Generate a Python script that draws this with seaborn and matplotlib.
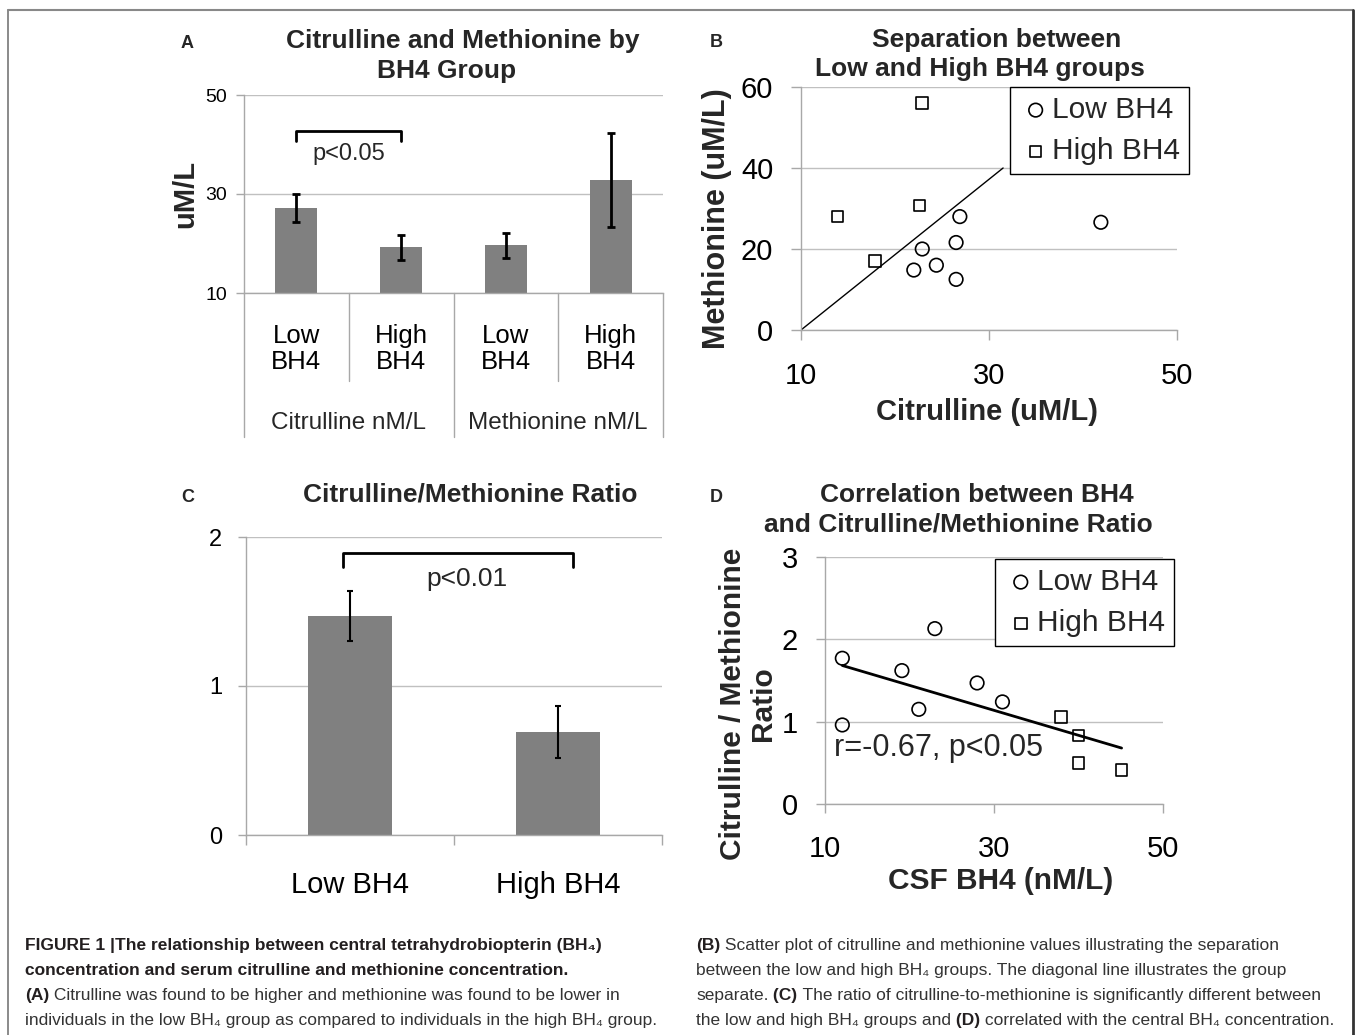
import matplotlib.pyplot as plt
import matplotlib.lines as mlines
import seaborn as sns
import pandas as pd
import numpy as np

# ---- data ----
bh4_groups = ['Low BH4', 'High BH4']

# panel A: mean +/- sem (uM/L)
analytes = ['Citrulline nM/L', 'Methionine nM/L']
a_means = [27.2, 19.2, 19.6, 32.8]
a_sem = [2.85, 2.45, 2.45, 9.55]

# panel B: citrulline vs methionine
b_low_cit = [26.9, 41.9, 26.5, 22.9, 24.4, 22.0, 26.5]
b_low_met = [28.0, 26.6, 21.6, 20.0, 16.0, 14.8, 12.5]
b_high_cit = [22.9, 22.6, 13.9, 17.9]
b_high_met = [56.0, 30.7, 28.0, 17.0]
b_sep_x = [10, 31.5]
b_sep_y = [0, 40]

# panel C: ratio mean +/- sem
c_means = [1.47, 0.69]
c_sem = [0.165, 0.175]

# panel D: CSF BH4 vs ratio
d_low_bh4 = [12.05, 12.05, 23.0, 19.1, 21.1, 28.0, 31.0]
d_low_ratio = [1.77, 0.96, 2.13, 1.62, 1.15, 1.47, 1.24]
d_high_bh4 = [37.95, 40.0, 40.0, 45.1]
d_high_ratio = [1.06, 0.83, 0.50, 0.41]

W, H = 1356, 1035
BAR = '#808080'
GRID = '#c0c0c0'
AXC = '#a8a8a8'

sns.set_style('white')
plt.rcParams['font.family'] = ['Liberation Sans', 'DejaVu Sans']
CAP_FONT = ['Liberation Sans Narrow', 'Liberation Sans', 'DejaVu Sans']

fig = plt.figure(figsize=(W / 100, H / 100), dpi=100)
capax = fig.add_axes([0, 0, 1, 1])
capax.axis('off')


def add_ax(l, t, r, b):
    return fig.add_axes([l / W, 1 - b / H, (r - l) / W, (b - t) / H])


def ftext(x, y, s, **kw):
    return fig.text(x / W, 1 - y / H, s, **kw)


def style_ax(ax, tick_len, label_size, pad):
    for s in ['top', 'right']:
        ax.spines[s].set_visible(False)
    for s in ['left', 'bottom']:
        ax.spines[s].set_color(AXC)
        ax.spines[s].set_linewidth(1)
    ax.yaxis.grid(True, color=GRID, linewidth=1)
    ax.xaxis.grid(False)
    ax.set_axisbelow(True)
    ax.tick_params(left=True, bottom=True, direction='out', color=AXC, labelcolor='black',
                   length=tick_len, width=1, labelsize=label_size, pad=pad)


def scatter_legend(ax, anchor):
    leg = ax.legend(loc='upper right', bbox_to_anchor=anchor, frameon=True, fancybox=False,
                    edgecolor='black', framealpha=1, fontsize=21.5, handletextpad=0.0,
                    borderpad=0.3, labelspacing=0.45, handlelength=1.1, borderaxespad=0)
    leg.get_frame().set_linewidth(1)
    return leg


# ---------------- panel A ----------------
ax = add_ax(244, 95, 663, 293)
df_a = pd.DataFrame({'key': [f'{a}|{g}' for a in analytes for g in bh4_groups], 'value': a_means})
sns.barplot(data=df_a, x='key', y='value', color=BAR, saturation=1, width=0.4,
            linewidth=0, errorbar=None, ax=ax)
ax.errorbar(np.arange(len(a_means)), a_means, yerr=a_sem, fmt='none', ecolor='black',
            elinewidth=2, capsize=3, capthick=2)
ax.set_ylim(10, 50)
ax.set_yticks([10, 30, 50])
ax.set_xlim(-0.5, len(a_means) - 0.5)
style_ax(ax, 6, 14, 6)
ax.set_xticks(range(len(a_means)))
ax.set_xticklabels([g.replace(' ', '\n') for a in analytes for g in bh4_groups],
                   fontsize=18.5, linespacing=1.15)
ax.tick_params(axis='x', length=0, pad=22)
ax.set_xlabel('')
tr = ax.get_xaxis_transform()
for i, name in enumerate(analytes):
    ax.text(2 * i + 0.5, -0.655, name, transform=tr, ha='center', va='center', fontsize=17.5)
for xb in [-0.5, 1.5, 3.5]:
    ax.plot([xb, xb], [0, -0.727], transform=tr, clip_on=False, color=AXC, lw=1)
for xb in [0.5, 2.5]:
    ax.plot([xb, xb], [0, -0.444], transform=tr, clip_on=False, color=AXC, lw=1)
ax.plot([0, 0, 1, 1], [40.7, 42.7, 42.7, 40.7], color='black', lw=2)
ax.text(0.5, 38.1, 'p<0.05', ha='center', va='center', fontsize=17)
ax.set_ylabel('uM/L', fontsize=21, fontweight='bold', ha='center', va='center')
ax.yaxis.set_label_coords(-0.141, 0.5)

ftext(187, 48, 'A', fontsize=13, fontweight='bold', ha='center', va='baseline')
ftext(463, 48, 'Citrulline and Methionine by', fontsize=19, fontweight='bold', ha='center', va='baseline')
ftext(447, 78, 'BH4 Group', fontsize=19, fontweight='bold', ha='center', va='baseline')

# ---------------- panel B ----------------
ax = add_ax(801, 87, 1177, 330)
sns.scatterplot(x=b_low_cit, y=b_low_met, marker='o', s=95, color='black', facecolor='none',
                edgecolor='black', linewidth=1.2, label='Low BH4', ax=ax)
sns.scatterplot(x=b_high_cit, y=b_high_met, marker='s', s=70, color='black', facecolor='none',
                edgecolor='black', linewidth=1.2, label='High BH4', ax=ax)
ax.plot(b_sep_x, b_sep_y, color='black', lw=1)
ax.set_xlim(10, 50)
ax.set_ylim(0, 60)
ax.set_xticks([10, 30, 50])
ax.set_yticks([0, 20, 40, 60])
style_ax(ax, 7, 21, 13)
ax.tick_params(axis='x', pad=16)
scatter_legend(ax, (1.032, 1.0))
ax.set_xlabel('Citrulline (uM/L)', fontsize=21, fontweight='bold', ha='center', va='center')
ax.xaxis.set_label_coords(0.496, -0.337)
ax.set_ylabel('Methionine (uM/L)', fontsize=22, fontweight='bold', ha='center', va='center')
ax.yaxis.set_label_coords(-0.223, 0.457)

ftext(716, 47, 'B', fontsize=13, fontweight='bold', ha='center', va='baseline')
ftext(997, 47, 'Separation between', fontsize=19, fontweight='bold', ha='center', va='baseline')
ftext(980, 76, 'Low and High BH4 groups', fontsize=19, fontweight='bold', ha='center', va='baseline')

# ---------------- panel C ----------------
ax = add_ax(246, 537, 662, 835)
sns.barplot(x=bh4_groups, y=c_means, color=BAR, saturation=1, width=0.4, linewidth=0,
            errorbar=None, ax=ax)
ax.errorbar(np.arange(len(c_means)), c_means, yerr=c_sem, fmt='none', ecolor='black',
            elinewidth=1.5, capsize=2.5, capthick=1.5)
ax.set_ylim(0, 2)
ax.set_yticks([0, 1, 2])
ax.set_xlim(-0.5, len(c_means) - 0.5)
style_ax(ax, 6, 17, 11)
ax.set_xticks([-0.5, 0.5, 1.5], minor=True)
ax.tick_params(axis='x', which='major', length=0, pad=26, labelsize=21)
ax.tick_params(axis='x', which='minor', bottom=True, length=7, width=1, color=AXC)
ax.plot([-0.035, -0.035, 1.07, 1.07], [1.80, 1.895, 1.895, 1.80], color='black', lw=2)
ax.text(0.56, 1.72, 'p<0.01', ha='center', va='center', fontsize=19)

ftext(188, 502, 'C', fontsize=13, fontweight='bold', ha='center', va='baseline')
ftext(470, 502, 'Citrulline/Methionine Ratio', fontsize=19, fontweight='bold', ha='center', va='baseline')

# ---------------- panel D ----------------
ax = add_ax(825, 557, 1163, 804)
df_d = pd.DataFrame({'bh4': d_low_bh4 + d_high_bh4, 'ratio': d_low_ratio + d_high_ratio})
sns.scatterplot(x=d_low_bh4, y=d_low_ratio, marker='o', s=95, color='black', facecolor='none',
                edgecolor='black', linewidth=1.2, label='Low BH4', ax=ax)
sns.scatterplot(x=d_high_bh4, y=d_high_ratio, marker='s', s=70, color='black', facecolor='none',
                edgecolor='black', linewidth=1.2, label='High BH4', ax=ax)
sns.regplot(data=df_d, x='bh4', y='ratio', scatter=False, ci=None, color='black',
            line_kws={'linewidth': 2}, ax=ax)
r = np.corrcoef(df_d['bh4'], df_d['ratio'])[0, 1]
ax.text(11.06, 0.68, f'r={r:.2f}, p<0.05', ha='left', va='center', fontsize=22)
ax.set_xlim(10, 50)
ax.set_ylim(0, 3)
ax.set_xticks([10, 30, 50])
ax.set_yticks([0, 1, 2, 3])
style_ax(ax, 6.5, 21, 13)
ax.tick_params(axis='x', pad=16)
scatter_legend(ax, (1.033, 0.992))
ax.set_xlabel('CSF BH4 (nM/L)', fontsize=21.5, fontweight='bold', ha='center', va='center')
ax.xaxis.set_label_coords(0.520, -0.31)
ax.set_ylabel('Citrulline / Methionine\nRatio', fontsize=21.5, fontweight='bold',
              ha='center', va='center', linespacing=1.1)
ax.yaxis.set_label_coords(-0.2276, 0.405)

ftext(716, 502, 'D', fontsize=13, fontweight='bold', ha='center', va='baseline')
ftext(977, 502, 'Correlation between BH4', fontsize=19, fontweight='bold', ha='center', va='baseline')
ftext(958, 532, 'and Citrulline/Methionine Ratio', fontsize=19, fontweight='bold', ha='center', va='baseline')

# ---------------- frame and caption ----------------
fig.add_artist(mlines.Line2D([8 / W, 8 / W], [0, 1 - 10 / H], color='#777777', lw=1.2))
fig.add_artist(mlines.Line2D([8 / W, 1353 / W], [1 - 10 / H, 1 - 10 / H], color='#888888', lw=1.5))
fig.add_artist(mlines.Line2D([1353 / W, 1353 / W], [0, 1 - 10 / H], color='#333333', lw=2))

renderer = fig.canvas.get_renderer()
CAP_FS = 12.5


def rich_line(x, y, parts):
    for s, bold in parts:
        t = ftext(x, y, s, fontsize=CAP_FS, family=CAP_FONT,
                  fontweight='bold' if bold else 'normal',
                  color='#231f20' if bold else '#333333', ha='left', va='baseline')
        x += t.get_window_extent(renderer).width


rich_line(25, 950, [('FIGURE 1 |The relationship between central tetrahydrobiopterin (BH\u2084)', True)])
rich_line(25, 975, [('concentration and serum citrulline and methionine concentration.', True)])
rich_line(25, 1000, [('(A)', True), (' Citrulline was found to be higher and methionine was found to be lower in', False)])
rich_line(25, 1025, [('individuals in the low BH\u2084 group as compared to individuals in the high BH\u2084 group.', False)])

rich_line(696, 950, [('(B)', True), (' Scatter plot of citrulline and methionine values illustrating the separation', False)])
rich_line(696, 975, [('between the low and high BH\u2084 groups. The diagonal line illustrates the group', False)])
rich_line(696, 1000, [('separate.', False), (' (C)', True), (' The ratio of citrulline-to-methionine is significantly different between', False)])
rich_line(696, 1025, [('the low and high BH\u2084 groups and', False), (' (D)', True),
                      (' correlated with the central BH\u2084 concentration.', False)])

fig.savefig('out.png', dpi=100)
